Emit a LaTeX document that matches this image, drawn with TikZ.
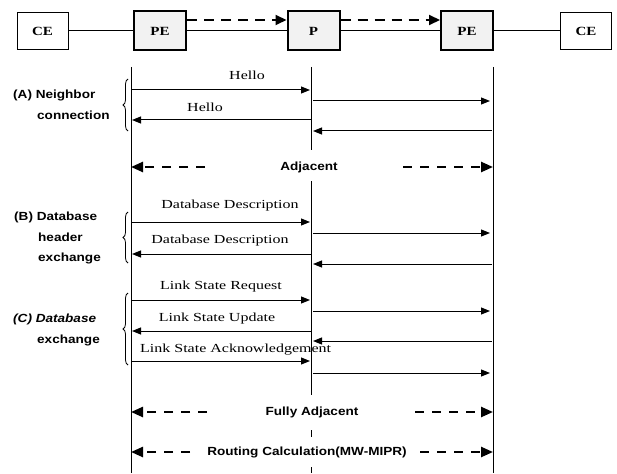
\documentclass[tikz,border=0pt]{standalone}
\usepackage{fontspec}
\setmainfont{Liberation Serif}
\newfontfamily\msgfont[FakeStretch=1.3]{Liberation Serif}
\newfontfamily\boxfont[FakeStretch=1.2]{Liberation Serif}
\newfontfamily\lblfont[FakeStretch=1.15]{Liberation Sans}
\usetikzlibrary{arrows.meta,decorations.pathreplacing}
\begin{document}
\begin{tikzpicture}[x=1pt,y=-1pt,
 ce/.style={draw,line width=0.9pt,minimum width=51pt,minimum height=37pt,inner sep=0pt,font=\boxfont\bfseries\fontsize{12.5}{14}\selectfont},
 pe/.style={draw,line width=2pt,fill=gray!10,minimum width=52pt,minimum height=39pt,inner sep=0pt,font=\boxfont\bfseries\fontsize{12.5}{14}\selectfont},
 link/.style={line width=1pt},
 tun/.style={line width=2pt,dash pattern=on 10pt off 7pt,-{Triangle[length=11pt,width=10pt]}},
 life/.style={line width=1pt},
 msg/.style={line width=1pt,-{Triangle[length=9pt,width=7pt]}},
 mlab/.style={font=\msgfont\fontsize{12.3}{14}\selectfont,inner sep=0pt},
 phase/.style={font=\lblfont\bfseries\fontsize{11.8}{13}\selectfont,inner sep=0pt,anchor=west},
 state/.style={line width=2.4pt,dash pattern=on 9pt off 8pt,-{Triangle[length=12pt,width=10pt]}},
 slab/.style={font=\lblfont\bfseries\fontsize{11.8}{13}\selectfont,inner sep=0pt},
 brc/.style={decorate,decoration={brace,amplitude=5pt},line width=0.8pt}
]
\useasboundingbox (0,0) rectangle (617,473);

% top row
\node[ce] (CEL) at (42.5,31) {CE};
\node[pe] (PEL) at (160,31) {PE};
\node[pe] (PM) at (313.5,31) {P};
\node[pe] (PER) at (467,31) {PE};
\node[ce] (CER) at (586,31) {CE};
\draw[link] (CEL) -- (PEL);
\draw[link] (PEL) -- (PM);
\draw[link] (PM) -- (PER);
\draw[link] (PER) -- (CER);
\draw[tun] ([yshift=11pt]PEL.east) -- ([yshift=11pt]PM.west);
\draw[tun] ([yshift=11pt]PM.east) -- ([yshift=11pt]PER.west);

% lifelines
\coordinate (Lt) at (131,67); \coordinate (Lb) at (131,473);
\coordinate (Rt) at (493,67); \coordinate (Rb) at (493,473);
\draw[life] (Lt) -- (Lb);
\draw[life] (Rt) -- (Rb);
\draw[life] (311,67) -- (311,150);
\draw[life] (311,181) -- (311,395);
\draw[life] (311,430) -- (311,437);
\draw[life] (311,467) -- (311,473);

% (A)
\draw[msg] (131,90) -- (310,90);
\node[mlab] (h1) at (247,75) {Hello};
\draw[msg] (313,101) -- (490,101);
\draw[msg] (311,120) -- (132,120);
\node[mlab] (h2) at (205,107) {Hello};
\draw[msg] (492,131) -- (313,131);

\draw[brc] (128,131) -- (128,79);
\node[phase] (pa1) at (13,95) {(A) Neighbor};
\node[phase] (pa2) at (37,115) {connection};

% Adjacent
\draw[state] (205,167) -- (131,167);
\node[slab] (adj) at (309,167) {Adjacent};
\draw[state] (403,167) -- (493,167);

% (B)
\draw[msg] (131,222) -- (310,222);
\node[mlab] (d1) at (230,206) {Database Description};
\draw[msg] (313,233) -- (490,233);
\draw[msg] (311,254) -- (132,254);
\node[mlab] (d2) at (220,241) {Database Description};
\draw[msg] (492,264) -- (313,264);

\draw[brc] (128,263) -- (128,212);
\node[phase] (pb1) at (14,217) {(B) Database};
\node[phase] (pb2) at (38,237) {header};
\node[phase] (pb3) at (38,258) {exchange};

% (C)
\draw[msg] (131,300) -- (310,300);
\node[mlab] (r1) at (221,287) {Link State Request};
\draw[msg] (313,311) -- (490,311);
\draw[msg] (311,331) -- (132,331);
\node[mlab] (u1) at (217,319) {Link State Update};
\draw[msg] (492,341) -- (313,341);
\draw[msg] (131,361) -- (310,361);
\node[mlab,anchor=west] (k1) at (140,350) {Link State Acknowledgement};
\draw[msg] (313,373) -- (490,373);

\draw[brc] (128,365) -- (128,293);
\node[phase] (pc1) at (13,319) {\itshape (C) Database};
\node[phase] (pc2) at (37,340) {exchange};

% Fully adjacent
\draw[state] (207,412) -- (131,412);
\node[slab] (fa) at (312,412) {Fully Adjacent};
\draw[state] (415,412) -- (493,412);

% Routing
\draw[state] (190,452) -- (131,452);
\node[slab] (rc) at (307,452) {Routing Calculation(MW-MIPR)};
\draw[state] (420,452) -- (493,452);
\end{tikzpicture}
\end{document}
